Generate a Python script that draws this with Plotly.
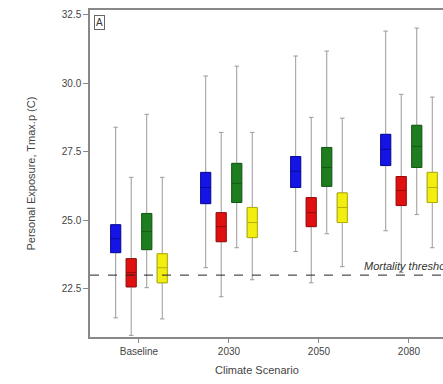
import plotly.graph_objects as go

categories = ["Baseline", "2030", "2050", "2080"]
series_names = ["S1", "S2", "S3", "S4"]
colors = ["#1414e6", "#e01010", "#1e7d1e", "#f2ef10"]
edge_colors = ["#0a0a9a", "#9a0a0a", "#145a14", "#b5b000"]

# per series: values for Baseline, 2030, 2050, 2080
lower = [
    [21.44, 23.27, 23.86, 24.62],
    [20.80, 22.21, 22.72, 23.09],
    [22.54, 24.00, 24.51, 25.21],
    [21.40, 22.83, 23.31, 24.00],
]
q1 = [
    [23.82, 25.61, 26.20, 27.00],
    [22.57, 24.22, 24.77, 25.54],
    [23.93, 25.65, 26.24, 26.93],
    [22.72, 24.37, 24.92, 25.65],
]
median = [
    [24.33, 26.20, 26.79, 27.59],
    [23.09, 24.77, 25.28, 26.09],
    [24.59, 26.35, 26.93, 27.70],
    [23.27, 24.92, 25.47, 26.20],
]
q3 = [
    [24.84, 26.75, 27.33, 28.14],
    [23.60, 25.28, 25.83, 26.60],
    [25.25, 27.08, 27.66, 28.47],
    [23.78, 25.47, 26.00, 26.75],
]
upper = [
    [28.40, 30.27, 31.00, 31.91],
    [26.57, 28.21, 28.76, 29.60],
    [28.87, 30.63, 31.18, 32.02],
    [26.57, 28.21, 28.73, 29.50],
]
threshold = 23.0
y_ticks = [22.5, 25.0, 27.5, 30.0, 32.5]

fig = go.Figure()
for i, name in enumerate(series_names):
    # grey whiskers
    fig.add_trace(go.Box(
        x=categories, q1=q1[i], median=median[i], q3=q3[i],
        lowerfence=lower[i], upperfence=upper[i],
        offsetgroup=name, name=name + " whisker",
        line=dict(color="#9a9a9a", width=1),
        fillcolor="rgba(0,0,0,0)", whiskerwidth=0.45,
        hoverinfo="skip", showlegend=False,
    ))
for i, name in enumerate(series_names):
    # coloured box on top
    fig.add_trace(go.Box(
        x=categories, q1=q1[i], median=median[i], q3=q3[i],
        lowerfence=q1[i], upperfence=q3[i],
        offsetgroup=name, name=name,
        line=dict(color=edge_colors[i], width=1),
        fillcolor=colors[i], whiskerwidth=0,
        showlegend=False,
    ))

fig.add_hline(y=threshold, line=dict(color="#222222", width=1, dash="dash"))

font_family = "Liberation Sans, Arial, sans-serif"
fig.update_layout(
    width=443, height=384,
    margin=dict(l=90, r=0, t=10, b=47),
    paper_bgcolor="white", plot_bgcolor="white",
    boxmode="group", boxgap=0.31, boxgroupgap=0.35,
    font=dict(family=font_family, size=10, color="#444444"),
    showlegend=False,
    xaxis=dict(
        type="category", range=[-0.544, 3.378],
        showgrid=False, zeroline=False,
        showline=True, linecolor="#888888", linewidth=1.5, mirror=True,
        ticks="outside", ticklen=4, tickcolor="#888888",
        tickfont=dict(size=10, color="#444444"),
    ),
    yaxis=dict(
        range=[20.74, 32.68], tickvals=y_ticks,
        ticktext=[f"{v:.1f}" for v in y_ticks],
        showgrid=False, zeroline=False,
        showline=True, linecolor="#888888", linewidth=1.5,
        ticks="outside", ticklen=5, tickcolor="#888888",
        tickfont=dict(size=10, color="#444444"),
    ),
    annotations=[
        dict(text="A", xref="paper", yref="paper", x=0.012, y=0.985,
             xanchor="left", yanchor="top", showarrow=False,
             font=dict(size=10, color="#333333"),
             bordercolor="#666666", borderwidth=1, borderpad=1),
        dict(text="<i>Mortality threshold</i>", xref="paper", yref="y",
             x=(362 - 90) / 353, y=threshold, xanchor="left", yanchor="bottom",
             yshift=1, showarrow=False, font=dict(size=11, color="#333333")),
        dict(text="Personal Exposure, Tmax.p (C)", xref="paper", yref="paper",
             x=(22 - 90) / 353, y=0.5, textangle=-90, showarrow=False,
             font=dict(size=11, color="#444444")),
        dict(text="Climate Scenario", xref="paper", yref="paper",
             x=(257 - 90) / 353, y=(337 - 378) / 327, showarrow=False,
             font=dict(size=11, color="#444444")),
    ],
)

fig.write_html(
    "out.html",
    config={"displayModeBar": False},
    post_script="document.body.style.margin='0';document.body.style.overflow='hidden';",
)
